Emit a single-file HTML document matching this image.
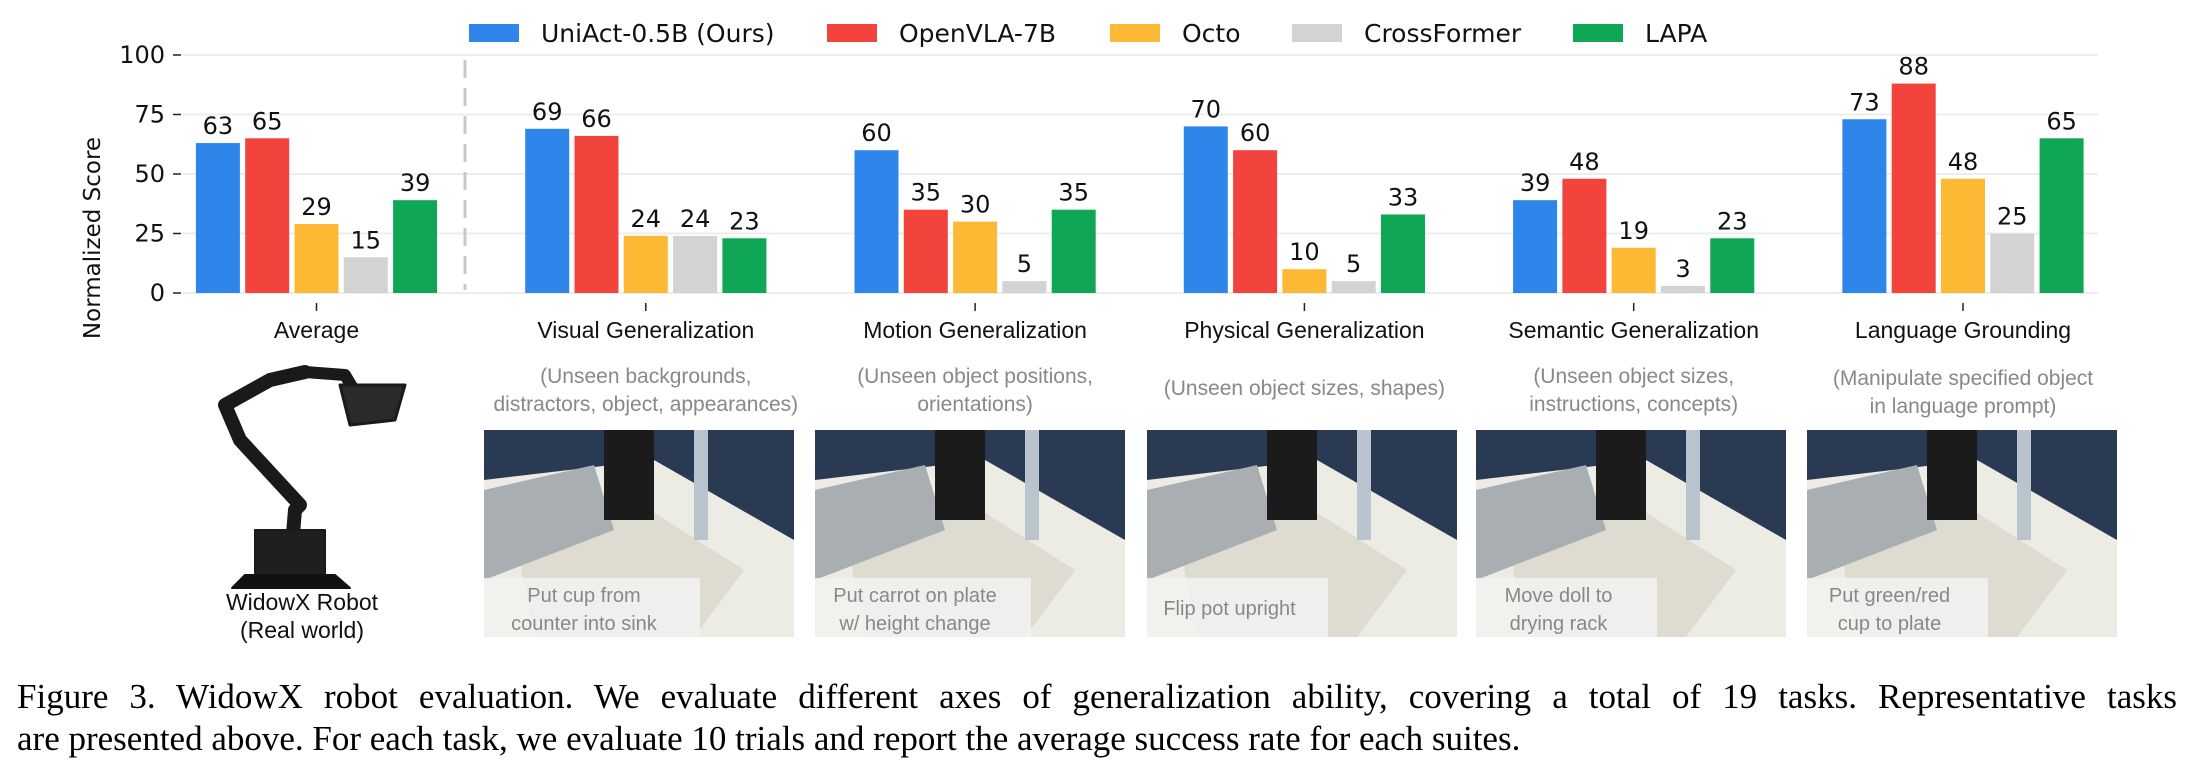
<!DOCTYPE html>
<html><head><meta charset="utf-8">
<style>
html,body{margin:0;padding:0;background:#fff;}
#root{position:relative;width:2198px;height:778px;overflow:hidden;background:#fff;}
svg text{font-family:"DejaVu Sans","Liberation Sans",sans-serif;}
.cat{font-family:"Liberation Sans Narrow","Liberation Sans",sans-serif;font-size:23px;fill:#111;}
.sub{font-family:"Liberation Sans Narrow","Liberation Sans",sans-serif;font-size:21px;fill:#888;}
.cap{font-family:"Liberation Sans Narrow","Liberation Sans",sans-serif;font-size:20px;fill:#888;}
.caption{position:absolute;left:17px;width:2160px;font-family:"Liberation Serif",serif;font-size:35px;color:#000;white-space:nowrap;line-height:42px;}
</style></head>
<body>
<div id="root">
<svg id="chart" width="2198" height="650" style="position:absolute;left:0;top:0"></svg>
<div class="caption" style="top:676px;text-align:justify;text-align-last:justify;">Figure 3. WidowX robot evaluation. We evaluate different axes of generalization ability, covering a total of 19 tasks. Representative tasks</div>
<div class="caption" style="top:718px;">are presented above. For each task, we evaluate 10 trials and report the average success rate for each suites.</div>
</div>
<script>
const categories = ["Average","Visual Generalization","Motion Generalization","Physical Generalization","Semantic Generalization","Language Grounding"];
const seriesNames = ["UniAct-0.5B (Ours)","OpenVLA-7B","Octo","CrossFormer","LAPA"];
const uniact = [63,69,60,70,39,73];
const openvla = [65,66,35,60,48,88];
const octo = [29,24,30,10,19,48];
const crossformer = [15,24,5,5,3,25];
const lapa = [39,23,35,33,23,65];
const yTicks = [0,25,50,75,100];
const subtitles = [[],["(Unseen backgrounds,","distractors, object, appearances)"],["(Unseen object positions,","orientations)"],["(Unseen object sizes,  shapes)"],["(Unseen object sizes,","instructions, concepts)"],["(Manipulate specified object","in language prompt)"]];
const taskCaptions = [["Put cup from","counter into sink"],["Put carrot on plate","w/ height change"],["Flip pot upright"],["Move doll to","drying rack"],["Put green/red","cup to plate"]];

const series = [uniact,openvla,octo,crossformer,lapa];
const colors = ["#2e86ea","#f2433d","#fdb933","#d3d3d3","#0fa656"];
const NS="http://www.w3.org/2000/svg";
const svg=document.getElementById('chart');
function mk(tag,attrs,parent){const e=document.createElementNS(NS,tag);for(const k in attrs)e.setAttribute(k,attrs[k]);(parent||svg).appendChild(e);return e;}
const plotL=183, plotR=2098, y0=293, y100=55;
function yS(v){return y0-(y0-y100)*v/100;}
function xC(i){return 316.5+329.3*i;}
const barW=44, step=49.3;

yTicks.forEach(t=>{
  const g=mk('line',{x1:plotL,x2:plotR,y1:yS(t),y2:yS(t),stroke:'#ededed','stroke-width':2});
  
  
  const tk=mk('line',{x1:173,x2:181,y1:yS(t),y2:yS(t),stroke:'#222','stroke-width':1.5});
  
  
  const tl=mk('text',{x:165,y:yS(t)+8,'text-anchor':'end','font-size':24,fill:'#111'});
  tl.textContent=t;
  
  
});
const yt=mk('text',{x:0,y:0,'font-size':23,fill:'#111','text-anchor':'middle',transform:'translate(100,238) rotate(-90)'});
yt.textContent='Normalized Score';


const dl=mk('line',{x1:465,x2:465,y1:60,y2:290,stroke:'#c8c8c8','stroke-width':3,'stroke-dasharray':'18,10'});



categories.forEach((c,i)=>{
  series.forEach((s,j)=>{
    const v=s[i];
    const x=xC(i)+(j-2)*step-barW/2;
    const r=mk('rect',{x:x,y:yS(v),width:barW,height:y0-yS(v),fill:colors[j]});
    
    
    const t=mk('text',{x:x+barW/2,y:yS(v)-9,'text-anchor':'middle','font-size':24,fill:'#111'});
    t.textContent=v;
    
    
  });
  const tk=mk('line',{x1:xC(i),x2:xC(i),y1:303,y2:311,stroke:'#222','stroke-width':1.5});
  
  
  const cl=mk('text',{x:xC(i),y:338,'text-anchor':'middle',class:'cat'});
  cl.textContent=c;
  
  
  const sub=subtitles[i];
  sub.forEach((line,k)=>{
    const yy = sub.length===1 ? 395 : (i===5?385:383)+k*28;
    const st=mk('text',{x:xC(i),y:yy,'text-anchor':'middle',class:'sub'});
    st.textContent=line;
    
    
  });
});

const legX=[469,827,1110,1292,1573];
seriesNames.forEach((n,j)=>{
  const r=mk('rect',{x:legX[j],y:24,width:50,height:18,fill:colors[j]});
  
  
  const t=mk('text',{x:legX[j]+72,y:42,'font-size':25,fill:'#111'});
  t.textContent=n;
  
  
});

const photoX=[484,815,1147,1476,1807];
const boxW=[216,216,181,181,181];
photoX.forEach((px,k)=>{
  const g=mk('g',{});
  
  
  const W=310,T=430,H=207;
  mk('rect',{x:px,y:T,width:W,height:H,fill:'#2a3a52'},g);
  mk('polygon',{points:`${px},${T+50} ${px+170},${T+30} ${px+W},${T+110} ${px+W},${T+H} ${px},${T+H}`,fill:'#ecebe4'},g);
  mk('polygon',{points:`${px+30},${T+100} ${px+150},${T+70} ${px+260},${T+140} ${px+210},${T+H} ${px+50},${T+H}`,fill:'#dedbd0'},g);
  mk('polygon',{points:`${px},${T+60} ${px+110},${T+35} ${px+130},${T+100} ${px},${T+150}`,fill:'#a9aeb3'},g);
  mk('rect',{x:px+120,y:T,width:50,height:90,fill:'#1b1b1b'},g);
  mk('rect',{x:px+210,y:T,width:14,height:110,fill:'#b9c4cf'},g);
  mk('rect',{x:px,y:578,width:boxW[k],height:59,fill:'#f1f1ef',opacity:0.92},g);
  const lines=taskCaptions[k];
  lines.forEach((ln,m)=>{
    const yy = lines.length===1 ? 615 : 602+m*28;
    const t=mk('text',{x:px+boxW[k]/2-8,y:yy,'text-anchor':'middle',class:'cap'});
    t.textContent=ln;
    
    
  });
});

const rg=mk('g',{fill:'none',stroke:'#1a1a1a','stroke-linecap':'round','stroke-linejoin':'round'});


mk('polyline',{points:'290,570 295,510 300,505 240,440 225,405 270,380 305,372',"stroke-width":14},rg);
mk('polyline',{points:'305,372 345,375 360,400',"stroke-width":12},rg);
mk('polygon',{points:'340,385 405,385 395,420 350,425',fill:'#2a2a2a',stroke:'#1a1a1a','stroke-width':3},rg);
mk('rect',{x:255,y:530,width:70,height:55,fill:'#1f1f1f',stroke:'#1a1a1a','stroke-width':2},rg);
mk('polygon',{points:'245,575 335,575 350,588 232,588',fill:'#111',stroke:'#111','stroke-width':2},rg);
const w1=mk('text',{x:302,y:610,'text-anchor':'middle',class:'cat'});
w1.textContent='WidowX Robot';


const w2=mk('text',{x:302,y:638,'text-anchor':'middle',class:'cat'});
w2.textContent='(Real world)';


</script>
</body></html>
